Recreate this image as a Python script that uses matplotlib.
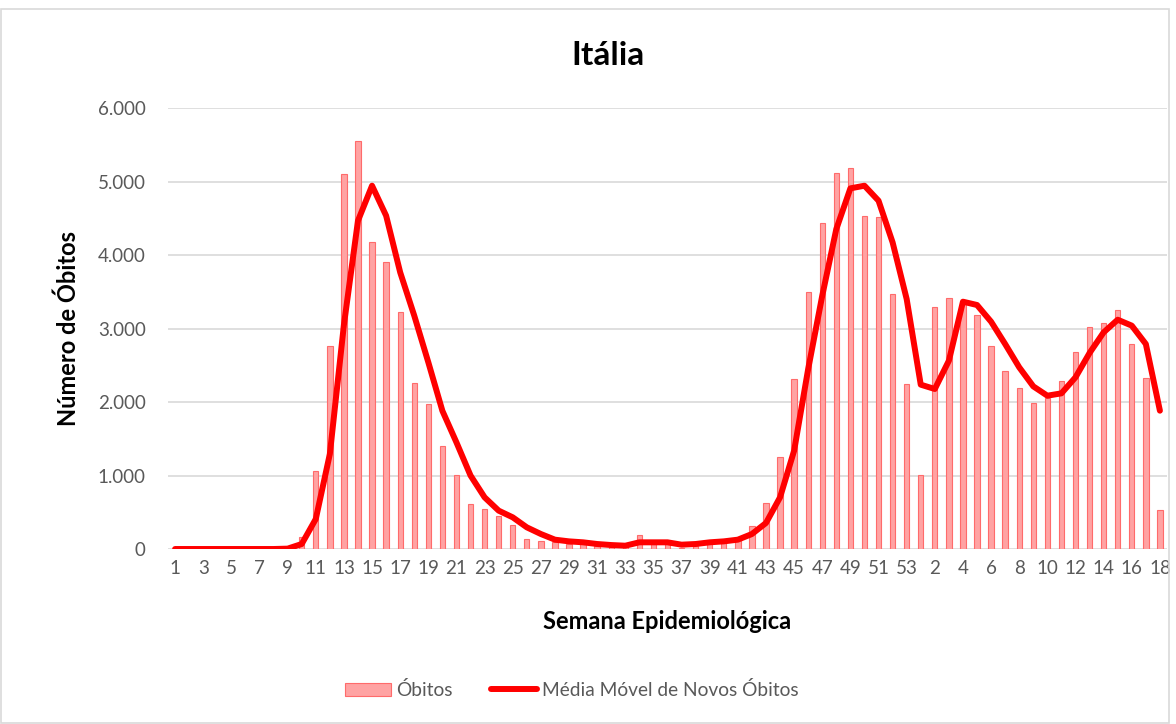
import numpy as np
import matplotlib
matplotlib.use("Agg")
import matplotlib.pyplot as plt
from matplotlib.patches import Rectangle
from matplotlib.lines import Line2D
from matplotlib.ticker import FuncFormatter

plt.rcParams['font.family'] = ['Lato', 'DejaVu Sans']

# semanas epidemiologicas: 2020 (1-53) e 2021 (1-18)
semanas = [str(s) for s in range(1, 54)] + [str(s) for s in range(1, 19)]

obitos_2020 = [0, 0, 0, 0, 0, 0, 0, 0, 5, 170, 1066, 2767, 5107, 5551, 4172, 3900,
               3225, 2264, 1968, 1406, 1007, 612, 544, 454, 331, 136, 113, 90, 70, 70,
               45, 25, 25, 190, 70, 70, 20, 45, 113, 113, 127, 308, 626, 1256, 2313,
               3501, 4435, 5116, 5179, 4535, 4512, 3469, 2245]
obitos_2021 = [1011, 3288, 3415, 3330, 3184, 2762, 2426, 2190, 1991, 2060, 2290,
               2676, 3016, 3070, 3256, 2789, 2331, 535]

media_2020 = [0, 0, 0, 0, 0, 0, 0, 0, 5, 68, 408, 1292, 3050, 4467, 4943, 4535,
              3764, 3175, 2540, 1880, 1450, 1000, 703, 522, 431, 295, 204, 127, 104,
              91, 68, 54, 45, 91, 91, 91, 59, 68, 91, 104, 127, 204, 354, 703, 1338,
              2450, 3447, 4354, 4907, 4943, 4739, 4172, 3401]
media_2021 = [2236, 2177, 2562, 3365, 3320, 3093, 2789, 2472, 2213, 2086, 2118,
              2336, 2667, 2948, 3120, 3039, 2789, 1882]

obitos = obitos_2020 + obitos_2021
media = media_2020 + media_2021
x = np.arange(len(semanas))

fig = plt.figure(figsize=(11.76, 7.24), dpi=100)
ax = fig.add_axes([0.1429, 0.2417, 0.8494, 0.6091])

ax.bar(x, obitos, width=0.38, color='#ffa3a3', edgecolor='#ff6b6b', linewidth=0.8,
       zorder=2)
ax.plot(x, media, color='#ff0000', linewidth=4.3, solid_capstyle='round',
        solid_joinstyle='round', zorder=3)

ax.set_xlim(-0.5, len(semanas) - 0.5)
ax.set_ylim(0, 6000)
ax.set_yticks(np.arange(0, 6001, 1000))
ax.yaxis.set_major_formatter(FuncFormatter(lambda v, p: f'{int(v):,}'.replace(',', '.')))
ax.set_xticks(x[::2])
ax.set_xticklabels(semanas[::2])
ax.tick_params(axis='both', length=0, labelsize=13.5, labelcolor='#595959')
ax.tick_params(axis='y', pad=16)
ax.tick_params(axis='x', pad=8)
ax.grid(axis='y', color='#d9d9d9', linewidth=1.2, zorder=0)
ax.set_axisbelow(True)
for s in ax.spines.values():
    s.set_visible(False)

fig.text(0.517, 0.924, 'Itália', ha='center', va='center', fontsize=24,
         fontweight='bold', color='black')
fig.text(0.058, 0.546, 'Número de Óbitos', rotation=90, ha='center', va='center',
         fontsize=17, fontweight='bold', color='black')
fig.text(0.567, 0.142, 'Semana Epidemiológica', ha='center', va='center',
         fontsize=17, fontweight='bold', color='black')

handles = [Rectangle((0, 0), 1, 1, facecolor='#ffa3a3', edgecolor='#ff6b6b', linewidth=0.8),
           Line2D([0], [0], color='#ff0000', linewidth=4.3, solid_capstyle='round')]
leg = fig.legend(handles, ['Óbitos', 'Média Móvel de Novos Óbitos'], loc='center',
                 bbox_to_anchor=(0.486, 0.047), ncol=2, frameon=False, fontsize=13.8,
                 handlelength=2.4, handletextpad=0.26, columnspacing=2.0)
for t in leg.get_texts():
    t.set_color('#595959')

fig.patches.append(Rectangle((0.001, 0.001), 0.993, 0.987, transform=fig.transFigure,
                             fill=False, edgecolor='#d9d9d9', linewidth=1.2))

fig.savefig('out.png', dpi=100)
